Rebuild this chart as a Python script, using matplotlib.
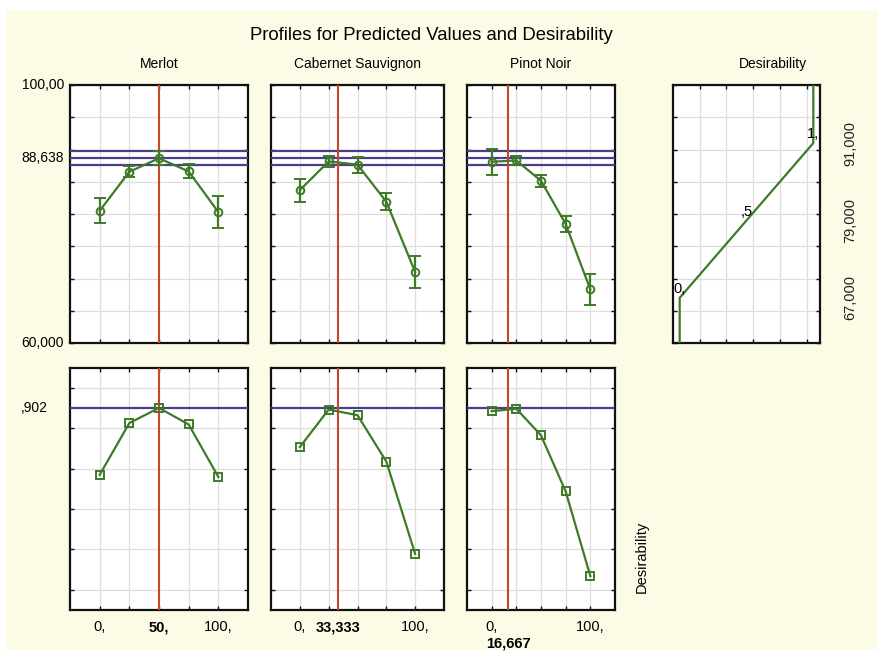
import matplotlib
matplotlib.use("Agg")
import matplotlib.pyplot as plt
from matplotlib.patches import Rectangle
from matplotlib.transforms import blended_transform_factory

plt.rcParams['font.family'] = ['Liberation Sans', 'DejaVu Sans']

# ---- data ----
factors = ["Merlot", "Cabernet Sauvignon", "Pinot Noir"]
levels = [0, 25, 50, 75, 100]

merlot_pred = [80.5, 86.55, 88.64, 86.6, 80.3]
merlot_ci = [1.93, 0.83, 1.1, 1.08, 2.5]
cabernet_pred = [83.7, 88.15, 87.65, 81.9, 71.0]
cabernet_ci = [1.8, 0.9, 1.24, 1.3, 2.45]
pinot_pred = [88.1, 88.3, 85.15, 78.45, 68.3]
pinot_ci = [2.0, 0.7, 0.9, 1.17, 2.43]

merlot_desir = [0.570, 0.827, 0.902, 0.820, 0.560]
cabernet_desir = [0.708, 0.894, 0.866, 0.636, 0.178]
pinot_desir = [0.886, 0.898, 0.766, 0.488, 0.068]

current_settings = [50.0, 33.333, 16.667]
current_labels = ["50,", "33,333", "16,667"]
predicted_value = 88.638
predicted_ci = [87.55, 89.77]
overall_desirability = 0.902

# desirability function: response -> desirability
desir_response = [60.0, 67.0, 79.0, 91.0, 100.0]
desir_values = [0.0, 0.0, 0.5, 1.0, 1.0]
desir_marks = [(0.0, 67.0, "0,"), (0.5, 79.0, ",5"), (1.0, 91.0, "1,")]
response_labels = [(91.0, "91,000"), (79.0, "79,000"), (67.0, "67,000")]

preds = [merlot_pred, cabernet_pred, pinot_pred]
cis = [merlot_ci, cabernet_ci, pinot_ci]
desirs = [merlot_desir, cabernet_desir, pinot_desir]

# ---- styling ----
GREEN = "#3f7a28"
RED = "#c8472b"
PURPLE = "#4b3d8e"
GRID = "#dedede"
BG = "#fcfbe6"

W, H = 877, 663
fig = plt.figure(figsize=(W / 100, H / 100), dpi=100, facecolor="white")
fig.patches.append(Rectangle((6 / W, 1 - 650 / H), (W - 6) / W, (650 - 10) / H,
                             transform=fig.transFigure, facecolor=BG,
                             edgecolor="none", zorder=-10))


def add_ax(l, t, r, b):
    ax = fig.add_axes([l / W, 1 - b / H, (r - l) / W, (b - t) / H])
    ax.set_facecolor("white")
    for s in ax.spines.values():
        s.set_linewidth(1.6)
        s.set_color("#111111")
    ax.tick_params(direction="in", length=3, width=1.0, top=True, right=True,
                   labelbottom=False, labelleft=False, color="#111111")
    ax.grid(True, color=GRID, linewidth=0.9, zorder=0)
    ax.set_axisbelow(True)
    return ax


cols = [(70, 248), (271, 444), (467, 615)]
top_row = (85, 343)
bot_row = (368, 610)

for i, (l, r) in enumerate(cols):
    # predicted response profile
    ax = add_ax(l, top_row[0], r, top_row[1])
    ax.set_xlim(-25, 125)
    ax.set_ylim(60, 100)
    ax.set_xticks(levels)
    ax.set_yticks(range(60, 101, 5))
    for yv in [predicted_ci[0], predicted_value, predicted_ci[1]]:
        ax.axhline(yv, color=PURPLE, lw=1.6, zorder=3)
    ax.axvline(current_settings[i], color=RED, lw=1.5, zorder=3)
    ax.errorbar(levels, preds[i], yerr=cis[i], color=GREEN, lw=1.6,
                elinewidth=1.6, capsize=4, capthick=1.6, marker="o",
                markersize=5.5, markerfacecolor="none", markeredgecolor=GREEN,
                markeredgewidth=1.4, zorder=4)
    ax.set_title(factors[i], fontsize=10, pad=12)
    if i == 0:
        tr = blended_transform_factory(fig.transFigure, ax.transData)
        for yv, txt in [(100, "100,00"), (predicted_value, "88,638"), (60, "60,000")]:
            fig.text(64 / W, yv, txt, transform=tr, ha="right", va="center",
                     fontsize=10)

    # desirability profile
    axd = add_ax(l, bot_row[0], r, bot_row[1])
    axd.set_xlim(-25, 125)
    axd.set_ylim(-0.1, 1.1)
    axd.set_xticks(levels)
    axd.set_yticks([0.0, 0.2, 0.4, 0.6, 0.8, 1.0])
    axd.axhline(overall_desirability, color=PURPLE, lw=1.6, zorder=3)
    axd.axvline(current_settings[i], color=RED, lw=1.5, zorder=3)
    axd.plot(levels, desirs[i], color=GREEN, lw=1.6, marker="s", markersize=6,
             markerfacecolor="none", markeredgecolor=GREEN, markeredgewidth=1.4,
             zorder=4)
    trx = blended_transform_factory(axd.transData, fig.transFigure)
    fig.text(0, 1 - 627 / H, "0,", transform=trx, ha="center", va="center", fontsize=10.5)
    fig.text(100, 1 - 627 / H, "100,", transform=trx, ha="center", va="center", fontsize=10.5)
    lab_y = 643 if i == 2 else 627
    fig.text(current_settings[i], 1 - lab_y / H, current_labels[i], transform=trx,
             ha="center", va="center", fontsize=10.5, fontweight="bold")
    if i == 0:
        tr = blended_transform_factory(fig.transFigure, axd.transData)
        fig.text(48 / W, overall_desirability, ",902", transform=tr, ha="right",
                 va="center", fontsize=10)

# desirability function panel
axf = add_ax(673, top_row[0], 820, top_row[1])
axf.set_xlim(-0.05, 1.05)
axf.set_ylim(60, 100)
axf.set_xticks([0.15, 0.35, 0.55, 0.75, 0.95])
axf.set_yticks(range(60, 101, 5))
axf.plot(desir_values, desir_response, color=GREEN, lw=1.6, zorder=4)
for dv, rv, txt in desir_marks:
    axf.text(dv, rv + 0.3, txt, ha="center", va="bottom", fontsize=10.5, zorder=5)
axf.set_title("Desirability", fontsize=10, pad=12, x=0.68)
tr = blended_transform_factory(fig.transFigure, axf.transData)
for rv, txt in response_labels:
    fig.text(850 / W, rv, txt, transform=tr, rotation=90, ha="center",
             va="center", fontsize=10.5, color="#222222")

fig.text(642 / W, 1 - 557 / H, "Desirability", rotation=90, ha="center",
         va="center", fontsize=10.5)
fig.text(431 / W, 1 - 35 / H, "Profiles for Predicted Values and Desirability",
         ha="center", va="center", fontsize=13.3)

fig.savefig("out.png", dpi=100, facecolor=fig.get_facecolor())
